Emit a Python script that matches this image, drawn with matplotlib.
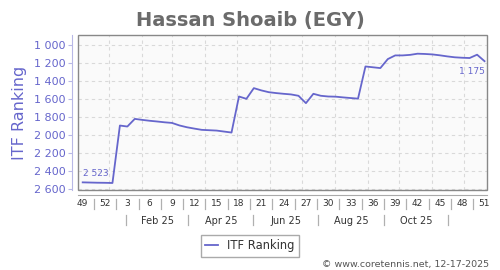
import pandas as pd
import matplotlib
matplotlib.use('Agg')
import matplotlib.pyplot as plt
import matplotlib.dates as mdates
from matplotlib.patches import Rectangle
from matplotlib.ticker import FuncFormatter

# weekly ITF ranking, first week = ISO week 49 of 2024
first_week = '2024-12-07'
ranking = [2523, 2525, 2527, 2528, 2530, 1891, 1902, 1817, 1828, 1838,
           1846, 1855, 1862, 1890, 1910, 1925, 1939, 1943, 1947, 1958,
           1969, 1568, 1594, 1475, 1500, 1520, 1530, 1538, 1545, 1560,
           1642, 1538, 1560, 1568, 1570, 1578, 1585, 1592, 1234, 1243,
           1252, 1152, 1111, 1111, 1105, 1092, 1095, 1100, 1110, 1122,
           1132, 1137, 1140, 1103, 1175]
week_labels = ['49', '52', '3', '6', '9', '12', '15', '18', '21', '24',
               '27', '30', '33', '36', '39', '42', '45', '48', '51']
month_labels = ['Feb 25', 'Apr 25', 'Jun 25', 'Aug 25', 'Oct 25']
month_starts = ['2025-02-01', '2025-04-01', '2025-06-01', '2025-08-01', '2025-10-01']
sep_dates = ['2025-01-17', '2025-03-16', '2025-05-16', '2025-07-16', '2025-09-16', '2025-11-16']
y_ticks = [1000, 1200, 1400, 1600, 1800, 2000, 2200, 2400, 2600]

blue = '#6666cc'
dates = pd.date_range(first_week, periods=len(ranking), freq='7D')
x = mdates.date2num(dates)

fig = plt.figure(figsize=(5, 2.7), dpi=100)
ax = fig.add_axes([78/500, 1-190/270, 409/500, 155/270])
ax.set_facecolor('#fafafa')

ax.plot(x, ranking, color=blue, lw=1.3, label='ITF Ranking')

ax.set_xlim(mdates.date2num(pd.Timestamp('2024-12-02 14:00')),
            mdates.date2num(pd.Timestamp('2025-12-22 08:00')))
ax.set_ylim(2608, 884)

# grid: horizontal at y ticks, vertical at month starts
for v in y_ticks:
    ax.axhline(v, color='#d9d9d9', lw=0.8, ls=(0, (3, 3)), zorder=0)
for d in pd.date_range('2025-01-01', '2025-12-01', freq='MS'):
    ax.axvline(mdates.date2num(d), color='#d9d9d9', lw=0.8, ls=(0, (3, 3)), zorder=0)

# frame and offset axes
for s in ['top', 'right']:
    ax.spines[s].set_visible(False)
ax.spines['left'].set_position(('outward', 4))
ax.spines['left'].set_color('#b8b8e6')
ax.spines['bottom'].set_position(('outward', 3.6))
ax.spines['bottom'].set_color('#aaaaaa')
ax.add_patch(Rectangle((0, 0), 1, 1, transform=ax.transAxes, fill=False,
                       ec='#888888', lw=1, clip_on=False, zorder=5))

ax.set_yticks(y_ticks)
ax.yaxis.set_major_formatter(FuncFormatter(lambda v, p: f'{int(v):,}'.replace(',', ' ')))
ax.tick_params(axis='y', colors='#b8b8e6', length=3, width=0.8, pad=2,
               labelsize=8, labelcolor=blue)
ax.set_ylabel('ITF Ranking', color=blue, fontsize=11.5, labelpad=5)

ax.set_xticks(x[::3])
ax.set_xticklabels(week_labels)
ax.tick_params(axis='x', length=0, pad=3, labelsize=6.5, labelcolor='#333333')

trans = ax.get_xaxis_transform()
for i in range(len(week_labels) - 1):
    xs = (x[3*i] + x[3*i+3]) / 2
    ax.plot([xs, xs], [-0.058, -0.122], color='#b0b0b0', lw=0.9,
            transform=trans, clip_on=False)
for d in sep_dates:
    xs = mdates.date2num(pd.Timestamp(d))
    ax.plot([xs, xs], [-0.16, -0.228], color='#b0b0b0', lw=0.9,
            transform=trans, clip_on=False)
for lab, m in zip(month_labels, month_starts):
    start = pd.Timestamp(m)
    mid = start + (start + pd.offsets.MonthBegin(1) - start) / 2
    ax.text(mdates.date2num(mid), -0.198, lab, transform=trans, ha='center',
            va='center', fontsize=7, color='#333333')

fmt = lambda v: f'{v:,}'.replace(',', ' ')
ax.annotate(fmt(ranking[0]), (x[0], ranking[0]), xytext=(0, 8.5),
            textcoords='offset pixels', ha='left', va='center', fontsize=6.5, color=blue)
ax.annotate(fmt(ranking[-1]), (x[-1], ranking[-1]), xytext=(0, -10),
            textcoords='offset pixels', ha='right', va='center', fontsize=6.5, color=blue)

fig.text(0.5, 1-21/270, 'Hassan Shoaib (EGY)', ha='center', va='center',
         fontsize=14, fontweight='bold', color='#6b6b6b')
fig.legend(loc='center', bbox_to_anchor=(0.5, 1-246/270), fontsize=8.3,
           handlelength=1.1, fancybox=False, edgecolor='#aaaaaa', framealpha=1,
           borderpad=0.4, labelcolor='#333333')
fig.text(489/500, 1-264/270, '© www.coretennis.net, 12-17-2025', ha='right',
         va='center', fontsize=6.8, color='#555555')

fig.savefig('out.png', dpi=100)
